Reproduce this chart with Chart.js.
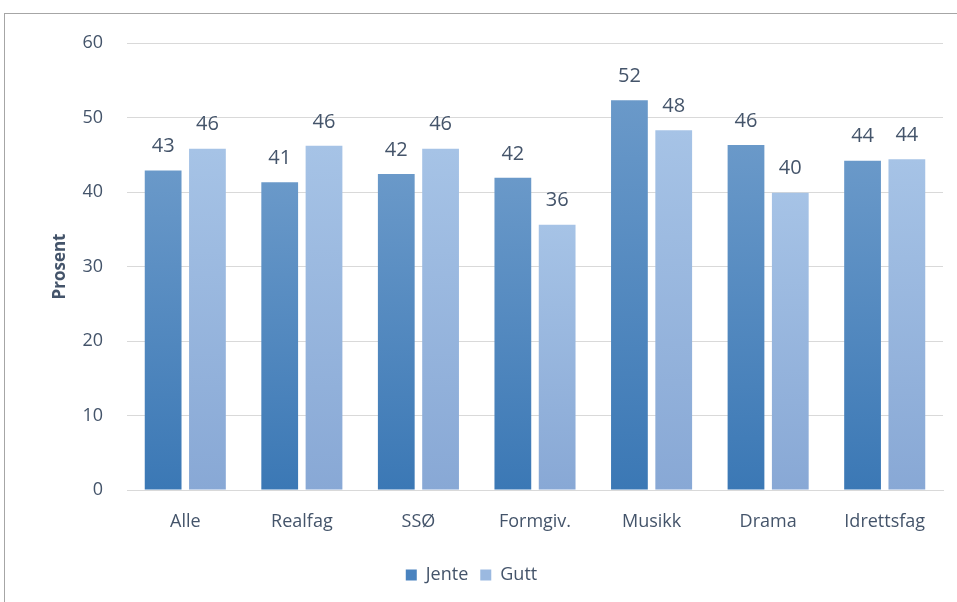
<!DOCTYPE html>
<html><head><meta charset="utf-8">
<script src="https://cdn.jsdelivr.net/npm/chart.js@4/dist/chart.umd.min.js"></script>
<style>
html,body{margin:0;padding:0;background:#fff;overflow:hidden}
#wrap{position:absolute;left:0;top:0;width:957px;height:602px}
#frame{position:absolute;left:4px;top:13px;width:1000px;height:700px;border-left:1px solid #a6a6a6;border-top:1px solid #a6a6a6;box-sizing:border-box;pointer-events:none}
</style></head>
<body>
<div id="wrap"><canvas id="c" width="957" height="602"></canvas></div>
<div id="frame"></div>
<script>
const categories = ["Alle","Realfag","SSØ","Formgiv.","Musikk","Drama","Idrettsfag"];
const jente = [42.9, 41.3, 42.4, 41.9, 52.3, 46.3, 44.2];
const gutt  = [45.8, 46.2, 45.8, 35.6, 48.3, 39.9, 44.4];
const seriesNames = ["Jente","Gutt"];
const yTicks = [0,10,20,30,40,50,60];

const FONT = "'Open Sans',sans-serif";
const TXT = '#44546a';

function grad(top, bottom, solid){
  return (ctx)=>{
    const chart = ctx.chart;
    if (!chart.chartArea || ctx.type !== 'data') return solid;
    const ys = chart.scales.y;
    const t = ys.getPixelForValue(ctx.parsed.y), b = ys.getPixelForValue(0);
    const g = chart.ctx.createLinearGradient(0, t, 0, b);
    g.addColorStop(0, top); g.addColorStop(1, bottom);
    return g;
  };
}

const labelPlugin = {
  id:'valLabels',
  afterDatasetsDraw(chart){
    const c = chart.ctx;
    c.save();
    c.font = "20px " + FONT;
    c.fillStyle = TXT;
    c.textAlign = 'center';
    c.textBaseline = 'middle';
    chart.data.datasets.forEach((ds,i)=>{
      chart.getDatasetMeta(i).data.forEach((el,j)=>{
        c.fillText(String(Math.round(ds.data[j])), el.x, el.y - 24);
      });
    });
    c.restore();
  }
};

new Chart(document.getElementById('c'), {
  type:'bar',
  data:{
    labels: categories,
    datasets:[
      {label:seriesNames[0], data:jente, backgroundColor: grad('#6a99c9','#3b78b5','#4f87c0'), borderWidth:0},
      {label:seriesNames[1], data:gutt, backgroundColor: grad('#a6c3e6','#88a8d5','#99b8e0'), borderWidth:0}
    ]
  },
  options:{
    responsive:false, animation:false,
    devicePixelRatio:1,
    layout:{padding:{left:0, top:43, right:14, bottom:8}},
    datasets:{bar:{categoryPercentage:0.76, barPercentage:0.83}},
    plugins:{
      legend:{
        position:'bottom',
        labels:{
          boxWidth:11, boxHeight:11, font:{family:FONT, size:18}, color:TXT,
          padding:12,
          generateLabels(chart){
            return chart.data.datasets.map((ds,i)=>({
              text: ds.label, fillStyle: i===0?'#4a83bf':'#9bb9e0', strokeStyle:'rgba(0,0,0,0)', lineWidth:0, datasetIndex:i, fontColor:TXT
            }));
          }
        }
      },
      tooltip:{enabled:false}
    },
    scales:{
      x:{
        grid:{display:false, drawTicks:false},
        border:{display:true, color:'#d9d9d9', width:1},
        ticks:{font:{family:FONT, size:18}, color:TXT, padding:21},
        afterFit(s){ s.height = 64; }
      },
      y:{
        min:0, max:60,
        afterBuildTicks(s){ s.ticks = yTicks.map(v=>({value:v})); },
        grid:{color:'#d9d9d9', lineWidth:1, drawTicks:false},
        border:{display:false},
        ticks:{font:{family:FONT, size:18}, color:TXT, padding:24},
        title:{display:true, text:'Prosent', font:{family:FONT, size:17, weight:'bold'}, color:TXT, padding:{top:50, bottom:0}},
        afterFit(s){ s.width = 127; }
      }
    }
  },
  plugins:[labelPlugin]
});
</script>
</body></html>
